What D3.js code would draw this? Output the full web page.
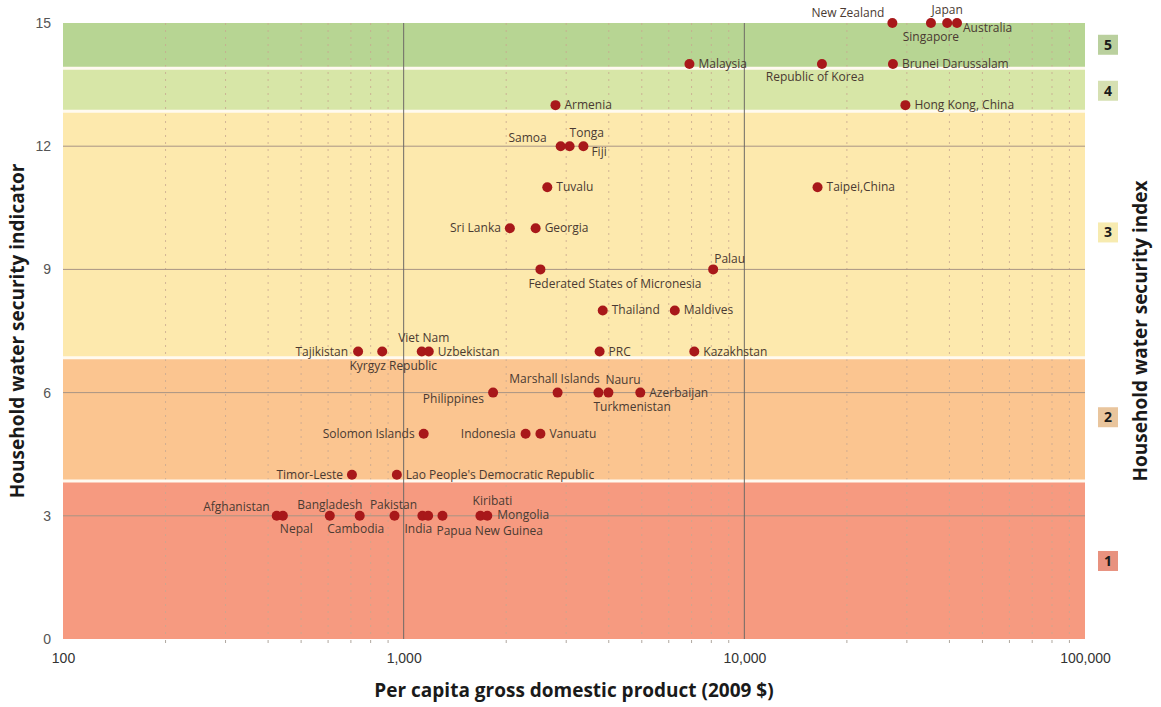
<!DOCTYPE html>
<html>
<head>
<meta charset="utf-8">
<script src="https://cdn.jsdelivr.net/npm/d3@7"></script>
<style>
  body { margin: 0; background: #fff; }
  svg { font-family: "Open Sans", "Noto Sans", sans-serif; }
</style>
</head>
<body>
<svg id="chart" width="1161" height="707"></svg>
<script>
// countries, gdp per capita (2009 $), household water security indicator
const countries = ["New Zealand", "Singapore", "Japan", "Australia",
    "Malaysia", "Republic of Korea", "Brunei Darussalam", "Hong Kong, China",
    "Armenia", "Samoa", "Tonga", "Fiji", "Tuvalu", "Taipei,China",
    "Sri Lanka", "Georgia", "Federated States of Micronesia", "Palau",
    "Thailand", "Maldives", "Tajikistan", "Kyrgyz Republic", "Viet Nam", "Uzbekistan",
    "PRC", "Kazakhstan", "Philippines", "Marshall Islands", "Turkmenistan", "Nauru",
    "Azerbaijan", "Solomon Islands", "Indonesia", "Vanuatu", "Timor-Leste",
    "Lao People's Democratic Republic", "Afghanistan", "Nepal", "Bangladesh", "Cambodia",
    "Pakistan", "India", "", "Papua New Guinea", "Kiribati", "Mongolia"];
const gdp = [27200, 35300, 39400, 42100,
    6900, 16900, 27300, 29700,
    2790, 2890, 3070, 3370, 2640, 16400,
    2050, 2440, 2520, 8100,
    3840, 6250, 735, 865, 1130, 1185,
    3760, 7130, 1830, 2830, 3730, 3990,
    4950, 1145, 2280, 2520, 705,
    955, 424, 442, 607, 743,
    940, 1135, 1180, 1300, 1680, 1760];
const indicator = [15, 15, 15, 15,
    14, 14, 14, 13,
    13, 12, 12, 12, 11, 11,
    10, 10, 9, 9,
    8, 8, 7, 7, 7, 7,
    7, 7, 6, 6, 6, 6,
    6, 5, 5, 5, 4,
    4, 3, 3, 3, 3,
    3, 3, 3, 3, 3, 3];

// label placement: [dx, dy, anchor]; default is right of the dot
const labelPlace = {
    "New Zealand": [-8, -6, "end"],
    "Singapore": [0, 18, "middle"],
    "Japan": [0, -9, "middle"],
    "Australia": [6, 9, "start"],
    "Republic of Korea": [-7, 17, "middle"],
    "Samoa": [-14, -4, "end"],
    "Tonga": [0, -9, "start"],
    "Fiji": [8, 10, "start"],
    "Sri Lanka": [-9, 4, "end"],
    "Federated States of Micronesia": [-12, 19, "start"],
    "Palau": [1, -6, "start"],
    "Tajikistan": [-10, 4, "end"],
    "Kyrgyz Republic": [11, 18, "middle"],
    "Viet Nam": [2, -10, "middle"],
    "Philippines": [-9, 10, "end"],
    "Marshall Islands": [-3, -10, "middle"],
    "Turkmenistan": [-5, 18, "start"],
    "Nauru": [-3, -9, "start"],
    "Solomon Islands": [-9, 4, "end"],
    "Indonesia": [-10, 4, "end"],
    "Timor-Leste": [-9, 4, "end"],
    "Afghanistan": [-7, -5, "end"],
    "Nepal": [-3, 17, "start"],
    "Bangladesh": [0, -7, "middle"],
    "Cambodia": [-4, 17, "middle"],
    "Pakistan": [-1, -7, "middle"],
    "India": [-4, 17, "middle"],
    "Papua New Guinea": [-6, 19, "start"],
    "Kiribati": [12, -11, "middle"],
    "Mongolia": [10, 3, "start"]
};

// index bands: indicator range per security index level
const bandIndex = [1, 2, 3, 4, 5];
const bandLow = [0, 3.85, 6.85, 12.85, 13.9];
const bandHigh = [3.85, 6.85, 12.85, 13.9, 15];
const bandColors = ["#f69a80", "#fbc590", "#fde9ad", "#d7e6a7", "#b7d593"];
const boxColors = ["#e8927f", "#e9c59d", "#f7ebb0", "#d6e0b2", "#bad09e"];
const boxValue = [1.9, 5.4, 9.9, 13.35, 14.47];

const xTicks = [100, 1000, 10000, 100000];
const yTicks = [0, 3, 6, 9, 12, 15];

const svg = d3.select("#chart");
const margin = { left: 63, right: 76, top: 23, bottom: 68 };
const width = 1161, height = 707;

const x = d3.scaleLog().domain([100, 100000]).range([margin.left, width - margin.right]);
const y = d3.scaleLinear().domain([0, 15]).range([height - margin.bottom, margin.top]);

// bands
svg.append("g").selectAll("rect")
    .data(bandIndex)
    .enter().append("rect")
    .attr("x", x(100))
    .attr("width", x(100000) - x(100))
    .attr("y", (d, i) => y(bandHigh[i]))
    .attr("height", (d, i) => y(bandLow[i]) - y(bandHigh[i]))
    .attr("fill", (d, i) => bandColors[i]);

// minor dotted verticals
const minor = [];
[100, 1000, 10000].forEach(dec => {
    for (let k = 2; k <= 9; k++) minor.push(dec * k);
});
svg.append("g").selectAll("line")
    .data(minor)
    .enter().append("line")
    .attr("x1", d => x(d)).attr("x2", d => x(d))
    .attr("y1", y(15)).attr("y2", y(0))
    .attr("stroke", "#c8a890")
    .attr("stroke-width", 1)
    .attr("stroke-dasharray", "2,5")
    .attr("opacity", 0.8);

// horizontal grid
svg.append("g").selectAll("line")
    .data([3, 6, 9, 12])
    .enter().append("line")
    .attr("x1", x(100)).attr("x2", x(100000))
    .attr("y1", d => y(d)).attr("y2", d => y(d))
    .attr("stroke", "#a89484")
    .attr("stroke-width", 1);

// white separators between bands
svg.append("g").selectAll("line")
    .data(bandLow.slice(1))
    .enter().append("line")
    .attr("x1", x(100)).attr("x2", x(100000))
    .attr("y1", d => y(d)).attr("y2", d => y(d))
    .attr("stroke", "#fffaf0")
    .attr("stroke-width", 3);

// major verticals
svg.append("g").selectAll("line")
    .data([1000, 10000])
    .enter().append("line")
    .attr("x1", d => x(d)).attr("x2", d => x(d))
    .attr("y1", y(15)).attr("y2", y(0))
    .attr("stroke", "#6e6a66")
    .attr("stroke-width", 1);

// x axis
const xAxis = svg.append("g")
    .attr("transform", `translate(0,${y(0)})`)
    .call(d3.axisBottom(x).tickValues(xTicks).tickFormat(d3.format(",")).tickSize(0).tickPadding(14));
xAxis.select(".domain").remove();
xAxis.selectAll("text")
    .attr("fill", "#333")
    .style("font-size", "14px");
svg.append("g").selectAll("line")
    .data(minor)
    .enter().append("line")
    .attr("x1", d => x(d)).attr("x2", d => x(d))
    .attr("y1", y(0) + 1).attr("y2", y(0) + 4)
    .attr("stroke", "#b0a8a0");

// y axis
const yAxis = svg.append("g")
    .attr("transform", `translate(${x(100)},0)`)
    .call(d3.axisLeft(y).tickValues(yTicks).tickSize(0).tickPadding(12));
yAxis.select(".domain").remove();
yAxis.selectAll("text")
    .attr("fill", "#555")
    .style("font-size", "14px");

// axis titles
svg.append("text")
    .attr("x", (x(100) + x(100000)) / 2)
    .attr("y", 697)
    .attr("text-anchor", "middle")
    .style("font-weight", "bold")
    .style("font-size", "19px")
    .attr("fill", "#1a1a1a")
    .text("Per capita gross domestic product (2009 $)");

svg.append("text")
    .attr("transform", `translate(24,${(y(0) + y(15)) / 2}) rotate(-90)`)
    .attr("text-anchor", "middle")
    .style("font-weight", "bold")
    .style("font-size", "19px")
    .attr("fill", "#1a1a1a")
    .text("Household water security indicator");

svg.append("text")
    .attr("transform", `translate(1147,${(y(0) + y(15)) / 2}) rotate(-90)`)
    .attr("text-anchor", "middle")
    .style("font-weight", "bold")
    .style("font-size", "19px")
    .attr("fill", "#1a1a1a")
    .text("Household water security index");

// index boxes
const box = svg.append("g").selectAll("g")
    .data(bandIndex)
    .enter().append("g")
    .attr("transform", (d, i) => `translate(1108,${y(boxValue[i])})`);
box.append("rect")
    .attr("x", -10).attr("y", -10)
    .attr("width", 20).attr("height", 20)
    .attr("fill", (d, i) => boxColors[i]);
box.append("text")
    .attr("text-anchor", "middle")
    .attr("dy", "0.36em")
    .style("font-weight", "bold")
    .style("font-size", "14px")
    .attr("fill", "#1a1a1a")
    .text(d => d);

// points
const pts = countries.map((c, i) => ({ name: c, gdp: gdp[i], v: indicator[i] }));

svg.append("g").selectAll("circle")
    .data(pts)
    .enter().append("circle")
    .attr("cx", d => x(d.gdp))
    .attr("cy", d => y(d.v))
    .attr("r", 5)
    .attr("fill", "#a8181a");

svg.append("g").selectAll("text")
    .data(pts.filter(d => d.name !== ""))
    .enter().append("text")
    .attr("x", d => x(d.gdp) + (labelPlace[d.name] ? labelPlace[d.name][0] : 9))
    .attr("y", d => y(d.v) + (labelPlace[d.name] ? labelPlace[d.name][1] : 4))
    .attr("text-anchor", d => labelPlace[d.name] ? labelPlace[d.name][2] : "start")
    .style("font-size", "12px")
    .attr("fill", "#4a3a32")
    .text(d => d.name);
</script>
</body>
</html>
